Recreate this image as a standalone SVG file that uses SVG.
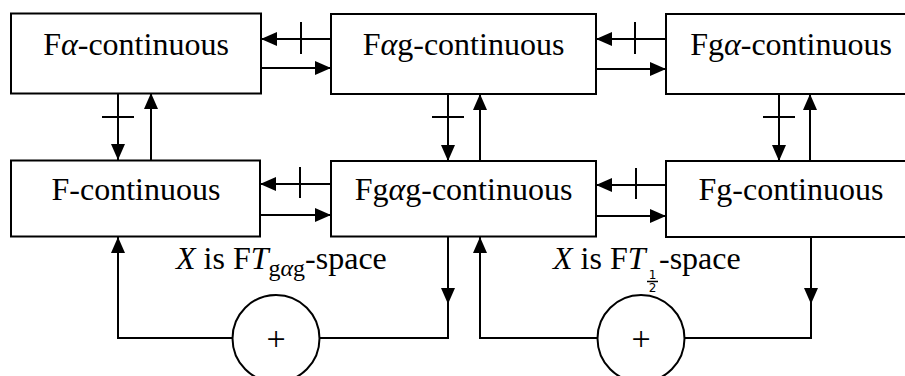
<svg xmlns="http://www.w3.org/2000/svg" width="905" height="376" viewBox="0 0 905 376">
  <style>
    .box { fill: #ffffff; stroke: #000000; stroke-width: 2; }
    .lbl { font-size: 32px; fill: #000000; text-anchor: middle; }
    .cap { font-size: 32px; fill: #000000; }
    .it { font-style: italic; }
    .ln { fill: none; stroke: #000000; stroke-width: 2; }
    .arr { fill: none; stroke: #000000; stroke-width: 2; marker-end: url(#head); }
    .sum { fill: #ffffff; stroke: #000000; stroke-width: 2; }
    .plus { font-size: 34px; fill: #000000; text-anchor: middle; }
    .frac { font-family: 'DejaVu Sans', sans-serif; font-size: 12px; fill: #000000; text-anchor: middle; }
  </style>
  <defs>
    <marker id="head" markerWidth="16" markerHeight="14" refX="16" refY="7" orient="auto" markerUnits="userSpaceOnUse">
      <path d="M0,0 L16,7 L0,14 z" fill="#000000"/>
    </marker>
  </defs>

  <rect width="905" height="376" fill="#ffffff"/>

  <g font-family="'Liberation Serif', 'Noto Serif', 'DejaVu Serif', serif">
  <!-- top row -->
  <g id="f-alpha">
    <rect class="box" x="11" y="13.5" width="250" height="80"/>
    <text class="lbl" x="136" y="55">F<tspan class="it">α</tspan>-continuous</text>
  </g>
  <g id="f-alpha-g">
    <rect class="box" x="331" y="14" width="265" height="80"/>
    <text class="lbl" x="463.5" y="55">F<tspan class="it">α</tspan>g-continuous</text>
  </g>
  <g id="f-g-alpha">
    <rect class="box" x="666" y="14" width="250" height="80"/>
    <text class="lbl" x="791" y="55">Fg<tspan class="it">α</tspan>-continuous</text>
  </g>

  <!-- bottom row -->
  <g id="f-cont">
    <rect class="box" x="11" y="160.5" width="249" height="76"/>
    <text class="lbl" x="136" y="200">F-continuous</text>
  </g>
  <g id="f-g-alpha-g">
    <rect class="box" x="331" y="161" width="265" height="75.5"/>
    <text class="lbl" x="463.5" y="200">Fg<tspan class="it">α</tspan>g-continuous</text>
  </g>
  <g id="f-g">
    <rect class="box" x="666" y="161" width="250" height="76"/>
    <text class="lbl" x="791" y="200">Fg-continuous</text>
  </g>

  <!-- summation junctions -->
  <g id="sum-left">
    <circle class="sum" cx="276" cy="338.5" r="43.5"/>
    <text class="plus" x="276" y="350">+</text>
  </g>
  <g id="sum-right">
    <circle class="sum" cx="641" cy="338.5" r="43.5"/>
    <text class="plus" x="641" y="350">+</text>
  </g>

  <!-- condition labels -->
  <g id="cond-gag">
    <text class="cap" x="176" y="269"><tspan class="it">X</tspan> is F<tspan class="it">T</tspan><tspan font-size="24" dy="7">g<tspan class="it">α</tspan>g</tspan><tspan dy="-7">-space</tspan></text>
  </g>
  <g id="cond-half">
    <text class="cap" x="553" y="269"><tspan class="it">X</tspan> is F<tspan class="it">T</tspan></text>
    <text class="frac" x="652.5" y="279">1</text>
    <line x1="647" y1="281.5" x2="658" y2="281.5" stroke="#000000" stroke-width="1.5"/>
    <text class="frac" x="652.5" y="292">2</text>
    <text class="cap" x="659" y="269">-space</text>
  </g>
  </g>

  <g id="connectors">
    <!-- row 1 horizontals -->
    <line class="arr" x1="331" y1="39" x2="261" y2="39"/>
    <line class="ln" x1="301" y1="22" x2="301" y2="54"/>
    <line class="arr" x1="261" y1="68" x2="331" y2="68"/>
    <line class="arr" x1="666" y1="39" x2="596" y2="39"/>
    <line class="ln" x1="635" y1="22" x2="635" y2="54"/>
    <line class="arr" x1="596" y1="69" x2="666" y2="69"/>

    <!-- row 2 horizontals -->
    <line class="arr" x1="331" y1="184" x2="260" y2="184"/>
    <line class="ln" x1="300" y1="167" x2="300" y2="198"/>
    <line class="arr" x1="260" y1="215" x2="331" y2="215"/>
    <line class="arr" x1="666" y1="185" x2="596" y2="185"/>
    <line class="ln" x1="636" y1="168" x2="636" y2="199"/>
    <line class="arr" x1="596" y1="216" x2="666" y2="216"/>

    <!-- verticals between rows -->
    <line class="arr" x1="118" y1="93" x2="118" y2="160"/>
    <line class="ln" x1="102" y1="117" x2="134" y2="117"/>
    <line class="arr" x1="151" y1="160" x2="151" y2="93"/>
    <line class="arr" x1="448" y1="94" x2="448" y2="161"/>
    <line class="ln" x1="432" y1="117" x2="464" y2="117"/>
    <line class="arr" x1="480" y1="161" x2="480" y2="94"/>
    <line class="arr" x1="779" y1="94" x2="779" y2="161"/>
    <line class="ln" x1="763" y1="117" x2="795" y2="117"/>
    <line class="arr" x1="810" y1="161" x2="810" y2="94"/>

    <!-- left loop through the summation junction -->
    <line class="arr" x1="448" y1="236" x2="448" y2="304"/>
    <polyline class="ln" points="448,303 448,338 319.5,338"/>
    <polyline class="arr" points="232.5,338 118,338 118,237"/>

    <!-- right loop through the summation junction -->
    <line class="arr" x1="811" y1="237" x2="811" y2="304"/>
    <polyline class="ln" points="811,303 811,338 684.5,338"/>
    <polyline class="arr" points="597.5,338 480,338 480,237"/>
  </g>
</svg>
